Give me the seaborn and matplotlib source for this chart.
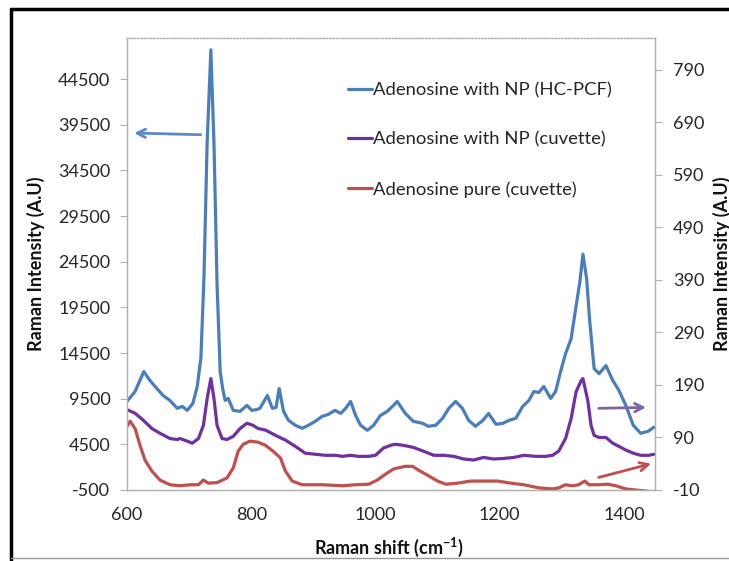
import numpy as np
import pandas as pd
import seaborn as sns
import matplotlib.pyplot as plt
from matplotlib.lines import Line2D

# Raman spectra
x_hcpcf = [600, 613, 627, 637, 648, 658, 669, 681, 689, 697, 706, 713, 719, 724, 729, 735, 740, 745, 750,
           754, 758, 763, 771, 782, 793, 801, 808, 814, 826, 834, 840, 845, 852, 860, 871, 882, 892, 903,
           914, 924, 935, 944, 952, 960, 968, 976, 987, 997, 1008, 1019, 1029, 1035, 1048, 1061, 1076,
           1085, 1097, 1108, 1118, 1129, 1140, 1150, 1161, 1173, 1182, 1194, 1205, 1215, 1226, 1237,
           1247, 1255, 1263, 1271, 1282, 1290, 1298, 1306, 1315, 1323, 1329, 1334, 1340, 1345, 1352,
           1360, 1371, 1382, 1392, 1403, 1415, 1427, 1439, 1448]
y_hcpcf = [9200, 10290, 12470, 11490, 10620, 9855, 9310, 8440, 8656, 8220, 8980, 10800, 14000, 23000,
           37500, 47700, 37500, 22000, 12500, 10600, 9310, 9530, 8220, 8110, 8765, 8220, 8300, 8440, 9855,
           8440, 8550, 10620, 8110, 7130, 6585, 6260, 6585, 7020, 7560, 7780, 8220, 7890, 8440, 9200, 7670,
           6585, 6040, 6585, 7670, 8110, 8765, 9200, 7890, 7020, 6800, 6476, 6585, 7350, 8440, 9200, 8440,
           7130, 6476, 7130, 7890, 6700, 6800, 7130, 7350, 8656, 9310, 10290, 10180, 10840, 9530, 10290,
           12470, 14430, 16070, 19670, 22280, 25330, 22610, 17920, 12800, 12250, 13120, 11500, 10400,
           8765, 6585, 5710, 5930, 6370]

x_np_cuv = [600, 613, 626, 640, 653, 669, 681, 685, 697, 705, 715, 723, 729, 735, 740, 745, 753, 761, 771,
            782, 793, 803, 811, 823, 839, 855, 871, 887, 903, 919, 935, 947, 960, 973, 989, 1000, 1013,
            1027, 1032, 1045, 1061, 1077, 1094, 1110, 1126, 1142, 1158, 1174, 1190, 1206, 1223, 1239,
            1258, 1274, 1285, 1295, 1306, 1315, 1323, 1331, 1334, 1342, 1347, 1352, 1360, 1371, 1382,
            1392, 1403, 1415, 1427, 1440, 1448]
y_np_cuv = [143, 136, 123, 107, 98, 88, 86, 88, 83, 79, 88, 113, 164, 202, 164, 113, 88, 86, 92,
            107, 117, 113, 107, 104, 94, 85, 73, 60, 58, 56, 56, 54, 56, 54, 54, 56, 70,
            76, 77, 75, 71, 64, 56, 56, 54, 49, 47, 52, 49, 50, 52, 56,
            54, 54, 56, 64, 88, 126, 177, 198, 202, 159, 113, 94, 90, 90, 79,
            73, 66, 60, 56, 56, 58]

x_pure = [600, 605, 613, 621, 629, 640, 653, 669, 685, 702, 715, 723, 731, 745, 761, 771, 779, 787, 798,
          811, 823, 835, 847, 855, 866, 882, 914, 947, 968, 989, 1003, 1016, 1029, 1048, 1060, 1069,
          1084, 1100, 1113, 1132, 1153, 1174, 1197, 1218, 1239, 1263, 1285, 1295, 1306, 1317, 1327,
          1337, 1344, 1358, 1374, 1387, 1403, 1419, 1435, 1448]
y_pure = [111, 121, 107, 75, 47, 26, 9, 0, -2, 0, 0, 9, 3, 4, 13, 32, 64, 77, 83,
          81, 75, 64, 51, 26, 7, 0, 0, -2, 0, 1, 9, 20, 30, 35, 35, 28,
          18, 7, 1, 3, 7, 7, 7, 3, 0, -6, -8, -6, 0, -2, 0,
          7, 0, 0, 1, -2, -8, -10, -12, -14]

labels = ["Adenosine with NP (HC-PCF)", "Adenosine with NP (cuvette)", "Adenosine pure (cuvette)"]
colors = ["#4a7ebb", "#7030a0", "#c0504d"]

left_ticks = np.arange(-500, 45000, 5000)
right_ticks = np.arange(-10, 800, 100)
x_ticks = [600, 800, 1000, 1200, 1400]

sns.set_theme(style="white")
plt.rcParams["font.family"] = ["Lato", "DejaVu Sans"]
plt.rcParams["mathtext.fontset"] = "custom"
plt.rcParams["mathtext.rm"] = "Lato"
plt.rcParams["mathtext.bf"] = "Lato:bold"
plt.rcParams["axes.unicode_minus"] = False

fig = plt.figure(figsize=(7.29, 5.61), dpi=100)
ax = fig.add_axes([127 / 729, 1 - 490 / 561, 528 / 729, 452 / 561])
ax2 = ax.twinx()

df1 = pd.DataFrame({"x": x_hcpcf, "y": y_hcpcf})
df2 = pd.DataFrame({"x": x_np_cuv, "y": y_np_cuv})
df3 = pd.DataFrame({"x": x_pure, "y": y_pure})

sns.lineplot(data=df1, x="x", y="y", ax=ax, color=colors[0], lw=2.3, label=labels[0], legend=False)
sns.lineplot(data=df2, x="x", y="y", ax=ax2, color=colors[1], lw=2.3, label=labels[1], legend=False)
sns.lineplot(data=df3, x="x", y="y", ax=ax2, color=colors[2], lw=2.3, label=labels[2], legend=False)

ax.set_xlim(600, 1450)
ax.set_ylim(-500, 49000)
ax2.set_ylim(-10, 850)
ax.set_xticks(x_ticks)
ax.set_yticks(left_ticks)
ax2.set_yticks(right_ticks)

for a in (ax, ax2):
    a.tick_params(labelsize=13, colors="#262626", length=5, width=0.8, direction="out")
    for s in a.spines.values():
        s.set_color("#b0b0b0")
        s.set_linewidth(0.9)
    a.spines["top"].set_linestyle(":")
ax.tick_params(axis="both", color="#b0b0b0", pad=7)
ax2.tick_params(axis="y", color="#b0b0b0", pad=8)

ax.set_xlabel(r"Raman shift (cm$^{\mathbf{-1}}$)", fontsize=13, fontweight="bold", color="#111111")
ax.xaxis.set_label_coords(0.496, -0.102)
ax.set_ylabel("Raman Intensity (A.U)", fontsize=13, fontweight="bold", color="#111111")
ax.yaxis.set_label_coords(-0.155, 0.5)
ax2.set_ylabel("Raman Intensity (A.U)", fontsize=13, fontweight="bold", color="#111111")
ax2.yaxis.set_label_coords(1.11, 0.5)

h1, _ = ax.get_legend_handles_labels()
h2, _ = ax2.get_legend_handles_labels()
ax2.legend(h1 + h2, labels, loc="upper left", bbox_to_anchor=(0.4186, 0.902), frameon=False,
           fontsize=13.3, handlelength=1.3, handletextpad=0.05, labelspacing=1.8,
           borderpad=0, borderaxespad=0)

# arrows pointing to the matching axis
ax.annotate("", xy=(607, 38600), xytext=(723, 38400),
            arrowprops=dict(arrowstyle="->", color="#5b8ac6", lw=2, mutation_scale=15))
ax.annotate("", xy=(1440, 8550), xytext=(1355, 8440),
            arrowprops=dict(arrowstyle="->", color="#8064a2", lw=2, mutation_scale=15))
ax.annotate("", xy=(1448, 2450), xytext=(1355, 800),
            arrowprops=dict(arrowstyle="->", color="#c0504d", lw=2, mutation_scale=15))

# outer frame of the pasted figure
fig.add_artist(Line2D([11 / 729, 11 / 729], [0, 1 - 9 / 561], color="black", lw=2.5, transform=fig.transFigure))
fig.add_artist(Line2D([11 / 729, 1], [1 - 9 / 561, 1 - 9 / 561], color="black", lw=2.5, transform=fig.transFigure))
fig.add_artist(Line2D([11 / 729, 1], [1 - 558 / 561, 1 - 558 / 561], color="#999999", lw=1, transform=fig.transFigure))

fig.savefig("out.png", dpi=100)
